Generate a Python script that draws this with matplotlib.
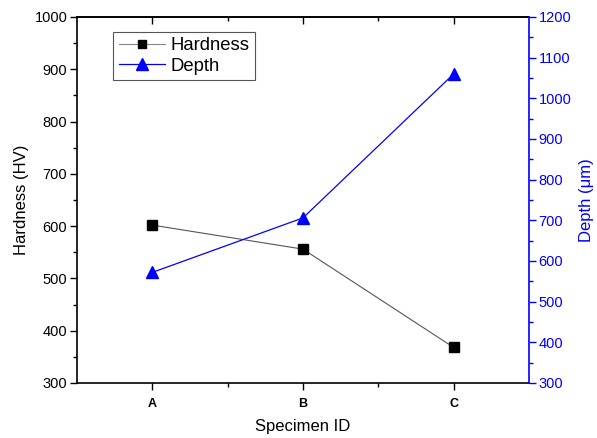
import matplotlib
matplotlib.use("Agg")
import matplotlib.pyplot as plt
from matplotlib.ticker import MultipleLocator, FixedLocator

plt.rcParams['font.family'] = ['Liberation Sans', 'DejaVu Sans']

specimens = ["A", "B", "C"]
hardness = [602, 556, 368]
depth = [572, 706, 1060]

fig = plt.figure(figsize=(5.97, 4.38), dpi=100)
ax = fig.add_axes([77/597, 1 - 383/438, (529 - 77)/597, (383 - 17)/438])
ax2 = ax.twinx()

x = list(range(1, len(specimens) + 1))

ax.plot(x, hardness, color="#555555", lw=0.8, marker="s", ms=7,
        mfc="black", mec="black", label="Hardness")
ax2.plot(x, depth, color="blue", lw=0.9, marker="^", ms=9,
         mfc="blue", mec="blue", label="Depth")

ax.set_xlim(0.5, 3.5)
ax.set_ylim(300, 1000)
ax2.set_ylim(300, 1200)

ax.xaxis.set_major_locator(FixedLocator(x))
ax.xaxis.set_minor_locator(FixedLocator([1.5, 2.5]))
ax.set_xticklabels(specimens, fontweight="bold", fontsize=9)
ax.yaxis.set_major_locator(MultipleLocator(100))
ax.yaxis.set_minor_locator(MultipleLocator(50))
ax2.yaxis.set_major_locator(MultipleLocator(100))
ax2.yaxis.set_minor_locator(MultipleLocator(50))

ax.tick_params(axis="x", which="major", direction="out", length=5, width=1,
               labelsize=9, pad=6)
ax.tick_params(axis="x", which="minor", direction="out", length=3, width=1)
ax.tick_params(axis="y", which="major", direction="out", length=5, width=1,
               labelsize=10.5, pad=2)
ax.tick_params(axis="y", which="minor", direction="out", length=3, width=1)
ax2.tick_params(axis="y", which="major", direction="out", length=5, width=1,
                colors="blue", labelsize=10.5, pad=2)
ax2.tick_params(axis="y", which="minor", direction="out", length=3, width=1,
                colors="blue")

# Top ticks point inward
secx = ax.secondary_xaxis("top")
secx.set_xticks(x)
secx.xaxis.set_minor_locator(FixedLocator([1.5, 2.5]))
secx.tick_params(axis="x", which="major", direction="in", length=5, width=1,
                 labeltop=False)
secx.tick_params(axis="x", which="minor", direction="in", length=3, width=1)
secx.set_xticklabels([])

for side in ["left", "bottom", "top"]:
    ax.spines[side].set_linewidth(1.2)
secx.spines["top"].set_linewidth(1.2)
ax2.spines["right"].set_color("blue")
ax2.spines["right"].set_linewidth(1.2)
ax.spines["right"].set_visible(False)
for s in ["left", "bottom", "top"]:
    ax2.spines[s].set_visible(False)

ax.set_xlabel("Specimen ID", fontsize=12, labelpad=6)
ax.set_ylabel("Hardness (HV)", fontsize=12, labelpad=4)
ax2.set_ylabel("Depth (\u03bcm)", fontsize=12, color="blue", labelpad=5)

h1, l1 = ax.get_legend_handles_labels()
h2, l2 = ax2.get_legend_handles_labels()
leg = ax.legend(h1 + h2, l1 + l2, loc="upper left",
                bbox_to_anchor=(0.08, 0.96), fontsize=13.3, frameon=True,
                fancybox=False, edgecolor="#555555", framealpha=1,
                handlelength=2.5, handletextpad=0.3, borderpad=0.3,
                labelspacing=0.2, borderaxespad=0, markerscale=0.9)
leg.get_frame().set_linewidth(0.8)
leg.get_lines()[0].set_color("#888888")

fig.savefig("out.png", dpi=100)
